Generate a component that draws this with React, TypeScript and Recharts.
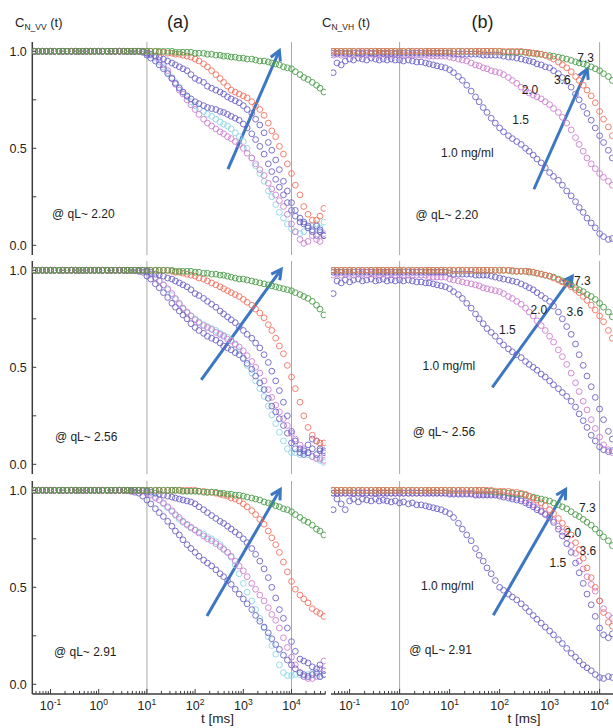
import React from "react";
import { ScatterChart, Scatter, XAxis, YAxis, ReferenceLine, ReferenceDot } from "recharts";

// correlator lag times [ms], shared by every series
const TIMES = [
  0.047, 0.056, 0.068, 0.082,
  0.1, 0.12, 0.15, 0.18, 0.22, 0.27, 0.33, 0.39, 0.47, 0.56, 0.68, 0.82,
  1, 1.2, 1.5, 1.8, 2.2, 2.7, 3.3, 3.9, 4.7, 5.6, 6.8, 8.2,
  10, 12, 15, 18, 22, 27, 33, 39, 47, 56, 68, 82,
  100, 120, 150, 180, 220, 270, 330, 390, 470, 560, 680, 820,
  1000, 1200, 1500, 1800, 2200, 2700, 3300, 3900, 4700, 5600, 6800, 8200,
  10000, 12000, 15000, 18000, 22000, 27000, 33000, 39000, 47000,
];

// ---- (a) C_N_VV, qL ~ 2.20 ----
const VV220_GREEN = [
  1, 1, 1, 1,
  1, 1, 1, 1, 1, 1, 1, 1, 1, 1, 1, 1,
  1, 1, 1, 1, 1, 1, 1, 1, 1, 1, 1, 1,
  1, 1, 1, 1, 1, 1, 1, 0.995, 0.995, 0.995, 0.995, 0.995,
  0.99, 0.99, 0.99, 0.985, 0.985, 0.98, 0.98, 0.975, 0.975, 0.97, 0.97, 0.965,
  0.965, 0.96, 0.96, 0.955, 0.95, 0.95, 0.945, 0.94, 0.935, 0.93, 0.92, 0.915,
  0.91, 0.895, 0.88, 0.865, 0.855, 0.84, 0.825, 0.81, 0.79,
];
const VV220_RED = [
  1, 1, 1, 1,
  1, 1, 1, 1, 1, 1, 1, 1, 1, 1, 1, 1,
  1, 1, 1, 1, 1, 1, 1, 1, 1, 1, 1, 1,
  1, 1, 1, 0.995, 0.995, 0.99, 0.99, 0.985, 0.985, 0.98, 0.975, 0.97,
  0.96, 0.95, 0.935, 0.92, 0.9, 0.88, 0.86, 0.84, 0.82, 0.8, 0.79, 0.78,
  0.77, 0.76, 0.74, 0.72, 0.7, 0.67, 0.63, 0.59, 0.56, 0.51, 0.47, 0.42,
  0.37, 0.31, 0.26, 0.2, 0.16, 0.13, 0.13, 0.15, 0.19,
];
const VV220_BLUE_SLOW = [
  1, 1, 1, 1,
  1, 1, 1, 1, 1, 1, 1, 1, 1, 1, 1, 1,
  1, 1, 1, 1, 1, 1, 1, 1, 1, 1, 1, 1,
  0.99, 0.985, 0.975, 0.97, 0.96, 0.95, 0.94, 0.93, 0.92, 0.91, 0.9, 0.88,
  0.86, 0.85, 0.84, 0.82, 0.81, 0.8, 0.79, 0.78, 0.765, 0.755, 0.745, 0.735,
  0.72, 0.7, 0.68, 0.65, 0.62, 0.58, 0.53, 0.49, 0.44, 0.39, 0.33, 0.28,
  0.22, 0.18, 0.14, 0.12, 0.1, 0.08, 0.1, 0.07, 0.05,
];
const VV220_BLUE_FAST = [
  1, 1, 1, 1,
  1, 1, 1, 1, 1, 1, 1, 1, 1, 1, 1, 1,
  1, 1, 1, 1, 1, 1, 1, 1, 1, 1, 1, 0.995,
  0.98, 0.965, 0.95, 0.93, 0.91, 0.885, 0.86, 0.835, 0.81, 0.79, 0.77, 0.755,
  0.74, 0.73, 0.72, 0.71, 0.705, 0.7, 0.69, 0.685, 0.675, 0.665, 0.655, 0.645,
  0.625, 0.605, 0.575, 0.545, 0.51, 0.47, 0.42, 0.38, 0.34, 0.3, 0.26, 0.22,
  0.18, 0.15, 0.12, 0.11, 0.09, 0.07, 0.05, 0.08, 0.05,
];
const VV220_MAGENTA = [
  1, 1, 1, 1,
  1, 1, 1, 1, 1, 1, 1, 1, 1, 1, 1, 1,
  1, 1, 1, 1, 1, 1, 1, 1, 1, 1, 1, 1,
  0.99, 0.985, 0.975, 0.955, 0.93, 0.9, 0.86, 0.83, 0.8, 0.78, 0.75, 0.725,
  0.7, 0.675, 0.65, 0.63, 0.615, 0.6, 0.585, 0.575, 0.56, 0.55, 0.535, 0.52,
  0.5, 0.475, 0.45, 0.42, 0.39, 0.36, 0.32, 0.29, 0.26, 0.23, 0.2, 0.16,
  0.11, 0.07, 0.03, 0.01, 0.02, 0.05, 0.03, 0.02, 0.06,
];
const VV220_CYAN = [
  1, 1, 1, 1,
  1, 1, 1, 1, 1, 1, 1, 1, 1, 1, 1, 1,
  1, 1, 1, 1, 1, 1, 1, 1, 1, 1, 1, 1,
  0.99, 0.98, 0.965, 0.945, 0.92, 0.89, 0.865, 0.84, 0.815, 0.79, 0.765, 0.74,
  0.72, 0.705, 0.69, 0.675, 0.665, 0.65, 0.635, 0.625, 0.615, 0.6, 0.58, 0.56,
  0.535, 0.5, 0.45, 0.41, 0.37, 0.33, 0.28, 0.25, 0.21, 0.17, 0.14, 0.11,
  0.085, 0.07, 0.06, 0.07, 0.09, 0.1, 0.11, 0.09, 0.12,
];

// ---- (a) C_N_VV, qL ~ 2.56 ----
const VV256_GREEN = [
  1, 1, 1, 1,
  1, 1, 1, 1, 1, 1, 1, 1, 1, 1, 1, 1,
  1, 1, 1, 1, 1, 1, 1, 1, 1, 1, 1, 1,
  1, 1, 1, 1, 1, 1, 1, 0.995, 0.995, 0.995, 0.995, 0.995,
  0.99, 0.99, 0.985, 0.985, 0.98, 0.98, 0.975, 0.975, 0.97, 0.965, 0.96, 0.955,
  0.955, 0.95, 0.945, 0.94, 0.935, 0.93, 0.925, 0.92, 0.915, 0.91, 0.905, 0.9,
  0.895, 0.885, 0.875, 0.865, 0.855, 0.84, 0.82, 0.8, 0.77,
];
const VV256_RED = [
  1, 1, 1, 1,
  1, 1, 1, 1, 1, 1, 1, 1, 1, 1, 1, 1,
  1, 1, 1, 1, 1, 1, 1, 1, 1, 1, 1, 1,
  1, 1, 1, 1, 1, 1, 0.995, 0.99, 0.99, 0.985, 0.98, 0.975,
  0.97, 0.96, 0.955, 0.945, 0.935, 0.925, 0.915, 0.905, 0.895, 0.885, 0.875, 0.865,
  0.85, 0.835, 0.82, 0.8, 0.78, 0.755, 0.72, 0.69, 0.65, 0.61, 0.57, 0.51,
  0.45, 0.39, 0.32, 0.25, 0.19, 0.15, 0.12, 0.11, 0.11,
];
const VV256_BLUE_SLOW = [
  1, 1, 1, 1,
  1, 1, 1, 1, 1, 1, 1, 1, 1, 1, 1, 1,
  1, 1, 1, 1, 1, 1, 1, 1, 1, 1, 1, 1,
  0.995, 0.99, 0.98, 0.975, 0.97, 0.96, 0.955, 0.945, 0.935, 0.925, 0.915, 0.9,
  0.88, 0.87, 0.855, 0.84, 0.825, 0.81, 0.79, 0.775, 0.76, 0.745, 0.73, 0.71,
  0.69, 0.67, 0.65, 0.625, 0.6, 0.565, 0.525, 0.48, 0.43, 0.38, 0.32, 0.25,
  0.17, 0.12, 0.08, 0.07, 0.1, 0.13, 0.12, 0.08, 0.07,
];
const VV256_BLUE_FAST = [
  1, 1, 1, 1,
  1, 1, 1, 1, 1, 1, 1, 1, 1, 1, 1, 1,
  1, 1, 1, 1, 1, 1, 1, 1, 1, 1, 0.995, 0.99,
  0.97, 0.955, 0.93, 0.91, 0.885, 0.86, 0.83, 0.81, 0.79, 0.77, 0.75, 0.725,
  0.705, 0.69, 0.675, 0.66, 0.65, 0.64, 0.625, 0.61, 0.6, 0.59, 0.575, 0.565,
  0.545, 0.52, 0.49, 0.455, 0.42, 0.385, 0.34, 0.3, 0.27, 0.235, 0.2, 0.16,
  0.11, 0.08, 0.06, 0.05, 0.06, 0.08, 0.05, 0.07, 0.06,
];
const VV256_MAGENTA = [
  1, 1, 1, 1,
  1, 1, 1, 1, 1, 1, 1, 1, 1, 1, 1, 1,
  1, 1, 1, 1, 1, 1, 1, 1, 1, 1, 1, 1,
  0.99, 0.98, 0.96, 0.945, 0.925, 0.905, 0.88, 0.855, 0.83, 0.805, 0.785, 0.765,
  0.745, 0.73, 0.715, 0.705, 0.695, 0.68, 0.67, 0.66, 0.645, 0.635, 0.62, 0.605,
  0.585, 0.56, 0.53, 0.5, 0.47, 0.43, 0.385, 0.345, 0.305, 0.27, 0.235, 0.2,
  0.16, 0.13, 0.1, 0.08, 0.06, 0.04, 0.03, 0.03, 0.02,
];
const VV256_CYAN = [
  1, 1, 1, 1,
  1, 1, 1, 1, 1, 1, 1, 1, 1, 1, 1, 1,
  1, 1, 1, 1, 1, 1, 1, 1, 1, 1, 1, 1,
  0.99, 0.98, 0.965, 0.945, 0.925, 0.9, 0.87, 0.85, 0.825, 0.8, 0.78, 0.765,
  0.75, 0.735, 0.72, 0.71, 0.7, 0.69, 0.675, 0.665, 0.655, 0.64, 0.615, 0.585,
  0.55, 0.51, 0.47, 0.43, 0.39, 0.35, 0.3, 0.255, 0.21, 0.165, 0.12, 0.08,
  0.06, 0.06, 0.05, 0.06, 0.05, 0.04, 0.03, 0.02, 0.01,
];

// ---- (a) C_N_VV, qL ~ 2.91 ----
const VV291_GREEN = [
  1, 1, 1, 1,
  1, 1, 1, 1, 1, 1, 1, 1, 1, 1, 1, 1,
  1, 1, 1, 1, 1, 1, 1, 1, 1, 1, 1, 1,
  1, 1, 1, 1, 1, 1, 1, 1, 1, 0.995, 0.995, 0.995,
  0.995, 0.995, 0.99, 0.99, 0.99, 0.99, 0.985, 0.985, 0.98, 0.98, 0.975, 0.975,
  0.97, 0.965, 0.96, 0.955, 0.95, 0.94, 0.935, 0.93, 0.92, 0.915, 0.905, 0.9,
  0.89, 0.875, 0.86, 0.845, 0.835, 0.82, 0.8, 0.79, 0.77,
];
const VV291_RED = [
  1, 1, 1, 1,
  1, 1, 1, 1, 1, 1, 1, 1, 1, 1, 1, 1,
  1, 1, 1, 1, 1, 1, 1, 1, 1, 1, 1, 1,
  1, 1, 1, 1, 1, 1, 1, 1, 1, 1, 1, 1,
  1, 0.995, 0.995, 0.99, 0.99, 0.985, 0.98, 0.975, 0.97, 0.96, 0.955, 0.945,
  0.93, 0.915, 0.895, 0.875, 0.85, 0.825, 0.79, 0.755, 0.72, 0.68, 0.63, 0.58,
  0.53, 0.49, 0.46, 0.44, 0.42, 0.39, 0.375, 0.365, 0.35,
];
const VV291_BLUE_SLOW = [
  1, 1, 1, 1,
  1, 1, 1, 1, 1, 1, 1, 1, 1, 1, 1, 1,
  1, 1, 1, 1, 1, 1, 1, 1, 1, 1, 1, 1,
  0.995, 0.99, 0.985, 0.98, 0.975, 0.97, 0.965, 0.96, 0.955, 0.95, 0.945, 0.94,
  0.93, 0.915, 0.9, 0.885, 0.87, 0.855, 0.84, 0.83, 0.815, 0.8, 0.785, 0.77,
  0.75, 0.73, 0.7, 0.67, 0.635, 0.595, 0.55, 0.5, 0.445, 0.385, 0.34, 0.29,
  0.22, 0.17, 0.13, 0.12, 0.11, 0.09, 0.08, 0.1, 0.07,
];
const VV291_BLUE_FAST = [
  1, 1, 1, 1,
  1, 1, 1, 1, 1, 1, 1, 1, 1, 1, 1, 1,
  1, 1, 1, 1, 1, 1, 1, 1, 0.995, 0.99, 0.985, 0.97,
  0.95, 0.93, 0.905, 0.885, 0.865, 0.84, 0.815, 0.79, 0.77, 0.745, 0.72, 0.7,
  0.68, 0.66, 0.64, 0.625, 0.61, 0.59, 0.57, 0.555, 0.535, 0.515, 0.49, 0.465,
  0.44, 0.415, 0.385, 0.355, 0.325, 0.295, 0.265, 0.235, 0.205, 0.18, 0.15, 0.125,
  0.1, 0.08, 0.06, 0.05, 0.04, 0.05, 0.06, 0.04, 0.05,
];
const VV291_MAGENTA = [
  1, 1, 1, 1,
  1, 1, 1, 1, 1, 1, 1, 1, 1, 1, 1, 1,
  1, 1, 1, 1, 1, 1, 1, 1, 1, 1, 1, 0.995,
  0.985, 0.975, 0.96, 0.95, 0.935, 0.915, 0.895, 0.875, 0.86, 0.84, 0.825, 0.81,
  0.795, 0.78, 0.765, 0.75, 0.74, 0.725, 0.71, 0.695, 0.68, 0.66, 0.635, 0.61,
  0.585, 0.555, 0.52, 0.49, 0.46, 0.43, 0.395, 0.36, 0.33, 0.29, 0.24, 0.19,
  0.14, 0.1, 0.06, 0.04, 0.03, 0.03, 0.04, 0.08, 0.12,
];
const VV291_CYAN = [
  1, 1, 1, 1,
  1, 1, 1, 1, 1, 1, 1, 1, 1, 1, 1, 1,
  1, 1, 1, 1, 1, 1, 1, 1, 1, 1, 1, 1,
  0.99, 0.98, 0.965, 0.95, 0.93, 0.91, 0.89, 0.87, 0.85, 0.835, 0.82, 0.805,
  0.795, 0.785, 0.775, 0.76, 0.75, 0.735, 0.72, 0.7, 0.68, 0.655, 0.615, 0.57,
  0.52, 0.475, 0.43, 0.385, 0.34, 0.29, 0.245, 0.2, 0.155, 0.1, 0.06, 0.045,
  0.045, 0.05, 0.05, 0.04, 0.05, 0.06, 0.05, 0.04, 0.05,
];

// ---- (b) C_N_VH, qL ~ 2.20 ----
const VH220_GREEN = [
  1, 1, 1, 1,
  1, 1, 1, 1, 1, 1, 1, 1, 1, 1, 1, 1,
  1, 1, 1, 1, 1, 1, 1, 1, 1, 1, 1, 1,
  1, 1, 1, 1, 1, 1, 1, 1, 1, 1, 1, 1,
  1, 0.995, 0.995, 0.995, 0.995, 0.995, 0.995, 0.99, 0.99, 0.985, 0.985, 0.98,
  0.978, 0.975, 0.97, 0.965, 0.96, 0.953, 0.946, 0.94, 0.935, 0.928, 0.92, 0.91,
  0.9, 0.885, 0.87, 0.85, 0.83, 0.81, 0.79, 0.77, 0.74,
];
const VH220_RED = [
  1, 1, 1, 1,
  1, 1, 1, 1, 1, 1, 1, 1, 1, 1, 1, 1,
  1, 1, 1, 1, 1, 1, 1, 1, 1, 1, 1, 1,
  1, 1, 1, 1, 1, 1, 1, 1, 1, 1, 1, 1,
  1, 1, 1, 1, 1, 1, 0.995, 0.995, 0.99, 0.99, 0.985, 0.98,
  0.97, 0.96, 0.945, 0.93, 0.915, 0.895, 0.87, 0.85, 0.825, 0.8, 0.77, 0.735,
  0.69, 0.65, 0.61, 0.565, 0.52, 0.47, 0.42, 0.37, 0.32,
];
const VH220_BLUE_MID = [
  0.99, 0.99, 0.99, 0.99,
  0.99, 0.99, 0.99, 0.99, 0.99, 0.99, 0.99, 0.99, 0.99, 0.99, 0.99, 0.99,
  0.99, 0.99, 0.99, 0.99, 0.99, 0.99, 0.99, 0.99, 0.99, 0.99, 0.99, 0.99,
  0.99, 0.985, 0.985, 0.985, 0.985, 0.985, 0.985, 0.985, 0.98, 0.98, 0.98, 0.98,
  0.98, 0.975, 0.97, 0.97, 0.965, 0.96, 0.955, 0.95, 0.945, 0.935, 0.93, 0.92,
  0.915, 0.9, 0.885, 0.865, 0.845, 0.815, 0.78, 0.75, 0.715, 0.68, 0.645, 0.605,
  0.565, 0.53, 0.49, 0.45, 0.41, 0.37, 0.33, 0.29, 0.25,
];
const VH220_MAGENTA = [
  0.98, 0.985, 0.98, 0.985,
  0.985, 0.98, 0.985, 0.985, 0.98, 0.985, 0.985, 0.98, 0.985, 0.985, 0.98, 0.985,
  0.98, 0.98, 0.98, 0.98, 0.98, 0.98, 0.98, 0.975, 0.975, 0.975, 0.975, 0.975,
  0.97, 0.965, 0.96, 0.955, 0.95, 0.94, 0.93, 0.925, 0.915, 0.91, 0.9, 0.895,
  0.89, 0.88, 0.865, 0.85, 0.835, 0.815, 0.8, 0.785, 0.775, 0.765, 0.755, 0.74,
  0.725, 0.705, 0.685, 0.66, 0.63, 0.595, 0.555, 0.52, 0.485, 0.45, 0.42, 0.395,
  0.37, 0.35, 0.33, 0.31, 0.29, 0.27, 0.25, 0.23, 0.21,
];
const VH220_BLUE_LOW = [
  0.89, 0.94, 0.93, 0.95,
  0.96, 0.955, 0.965, 0.96, 0.955, 0.965, 0.96, 0.955, 0.96, 0.955, 0.96, 0.955,
  0.955, 0.95, 0.955, 0.95, 0.945, 0.945, 0.94, 0.935, 0.93, 0.925, 0.92, 0.915,
  0.905, 0.89, 0.87, 0.85, 0.825, 0.795, 0.765, 0.74, 0.71, 0.685, 0.655, 0.63,
  0.605, 0.585, 0.565, 0.55, 0.535, 0.52, 0.5, 0.485, 0.465, 0.445, 0.425, 0.4,
  0.375, 0.355, 0.335, 0.31, 0.28, 0.255, 0.225, 0.195, 0.17, 0.14, 0.115, 0.09,
  0.06, 0.045, 0.03, 0.035, 0.05, 0.04, 0.05, 0.06, 0.05,
];

// ---- (b) C_N_VH, qL ~ 2.56 ----
const VH256_GREEN = [
  1, 1, 1, 1,
  1, 1, 1, 1, 1, 1, 1, 1, 1, 1, 1, 1,
  1, 1, 1, 1, 1, 1, 1, 1, 1, 1, 1, 1,
  1, 1, 1, 1, 1, 1, 1, 1, 1, 1, 1, 1,
  1, 1, 1, 0.995, 0.995, 0.995, 0.995, 0.99, 0.99, 0.985, 0.98, 0.975,
  0.97, 0.965, 0.955, 0.945, 0.935, 0.925, 0.91, 0.9, 0.89, 0.875, 0.865, 0.85,
  0.83, 0.81, 0.785, 0.76, 0.735, 0.71, 0.68, 0.65, 0.62,
];
const VH256_RED = [
  1, 1, 1, 1,
  1, 1, 1, 1, 1, 1, 1, 1, 1, 1, 1, 1,
  1, 1, 1, 1, 1, 1, 1, 1, 1, 1, 1, 1,
  1, 1, 1, 1, 1, 1, 1, 1, 1, 1, 1, 1,
  1, 1, 1, 1, 0.995, 0.995, 0.995, 0.995, 0.99, 0.985, 0.98, 0.975,
  0.97, 0.96, 0.95, 0.94, 0.93, 0.915, 0.9, 0.885, 0.865, 0.845, 0.82, 0.795,
  0.765, 0.735, 0.69, 0.65, 0.6, 0.55, 0.5, 0.45, 0.4,
];
const VH256_BLUE_MID = [
  0.99, 0.99, 0.99, 0.99,
  0.99, 0.99, 0.99, 0.99, 0.99, 0.99, 0.99, 0.99, 0.99, 0.99, 0.99, 0.99,
  0.99, 0.99, 0.99, 0.99, 0.99, 0.99, 0.99, 0.99, 0.99, 0.99, 0.99, 0.99,
  0.985, 0.98, 0.98, 0.98, 0.98, 0.98, 0.975, 0.975, 0.975, 0.975, 0.97, 0.965,
  0.96, 0.955, 0.95, 0.945, 0.94, 0.93, 0.92, 0.91, 0.9, 0.885, 0.87, 0.855,
  0.84, 0.815, 0.785, 0.75, 0.71, 0.67, 0.62, 0.565, 0.51, 0.455, 0.4, 0.345,
  0.285, 0.23, 0.17, 0.13, 0.1, 0.08, 0.07, 0.07, 0.08,
];
const VH256_MAGENTA = [
  0.975, 0.98, 0.975, 0.98,
  0.98, 0.975, 0.98, 0.98, 0.975, 0.98, 0.98, 0.975, 0.98, 0.975, 0.98, 0.975,
  0.975, 0.975, 0.975, 0.975, 0.975, 0.975, 0.975, 0.965, 0.965, 0.965, 0.965, 0.965,
  0.955, 0.95, 0.945, 0.94, 0.935, 0.93, 0.925, 0.92, 0.91, 0.905, 0.9, 0.895,
  0.89, 0.88, 0.865, 0.855, 0.84, 0.825, 0.805, 0.785, 0.765, 0.74, 0.715, 0.69,
  0.66, 0.63, 0.59, 0.555, 0.515, 0.47, 0.42, 0.375, 0.325, 0.28, 0.23, 0.185,
  0.14, 0.1, 0.075, 0.06, 0.055, 0.06, 0.065, 0.07, 0.075,
];
const VH256_BLUE_LOW = [
  0.88, 0.945, 0.935, 0.95,
  0.94, 0.95, 0.955, 0.945, 0.95, 0.955, 0.945, 0.95, 0.955, 0.945, 0.95, 0.945,
  0.95, 0.945, 0.95, 0.945, 0.94, 0.94, 0.935, 0.935, 0.93, 0.925, 0.92, 0.915,
  0.905, 0.89, 0.875, 0.855, 0.83, 0.805, 0.775, 0.75, 0.725, 0.7, 0.68, 0.66,
  0.635, 0.615, 0.595, 0.58, 0.565, 0.55, 0.53, 0.515, 0.5, 0.485, 0.465, 0.45,
  0.43, 0.41, 0.39, 0.37, 0.35, 0.325, 0.295, 0.26, 0.225, 0.19, 0.15, 0.12,
  0.09, 0.075, 0.065, 0.07, 0.075, 0.08, 0.07, 0.08, 0.07,
];

// ---- (b) C_N_VH, qL ~ 2.91 ----
const VH291_GREEN = [
  1, 1, 1, 1,
  1, 1, 1, 1, 1, 1, 1, 1, 1, 1, 1, 1,
  1, 1, 1, 1, 1, 1, 1, 1, 1, 1, 1, 1,
  1, 1, 1, 1, 1, 1, 1, 1, 1, 0.995, 0.995, 0.99,
  0.99, 0.99, 0.985, 0.985, 0.98, 0.98, 0.975, 0.97, 0.965, 0.96, 0.955, 0.95,
  0.945, 0.935, 0.925, 0.915, 0.905, 0.89, 0.875, 0.865, 0.85, 0.835, 0.82, 0.8,
  0.78, 0.76, 0.74, 0.715, 0.695, 0.67, 0.645, 0.62, 0.59,
];
const VH291_RED = [
  1, 1, 1, 1,
  1, 1, 1, 1, 1, 1, 1, 1, 1, 1, 1, 1,
  1, 1, 1, 1, 1, 1, 1, 1, 1, 1, 1, 1,
  1, 1, 1, 1, 1, 1, 1, 1, 1, 1, 1, 0.995,
  0.995, 0.995, 0.995, 0.99, 0.99, 0.985, 0.98, 0.97, 0.96, 0.95, 0.935, 0.92,
  0.9, 0.88, 0.855, 0.83, 0.8, 0.77, 0.73, 0.695, 0.65, 0.6, 0.55, 0.5,
  0.43, 0.37, 0.32, 0.3, 0.31, 0.34, 0.37, 0.4, 0.42,
];
const VH291_MAGENTA = [
  0.985, 0.985, 0.985, 0.985,
  0.985, 0.985, 0.985, 0.985, 0.985, 0.985, 0.985, 0.985, 0.985, 0.985, 0.985, 0.985,
  0.985, 0.985, 0.985, 0.985, 0.985, 0.985, 0.985, 0.985, 0.985, 0.985, 0.985, 0.985,
  0.985, 0.985, 0.985, 0.985, 0.985, 0.985, 0.98, 0.98, 0.98, 0.98, 0.98, 0.98,
  0.978, 0.975, 0.97, 0.965, 0.96, 0.955, 0.945, 0.935, 0.925, 0.91, 0.895, 0.88,
  0.865, 0.845, 0.815, 0.785, 0.755, 0.715, 0.675, 0.635, 0.595, 0.555, 0.515, 0.48,
  0.43, 0.39, 0.355, 0.34, 0.35, 0.37, 0.39, 0.4, 0.41,
];
const VH291_BLUE_MID = [
  0.985, 0.985, 0.985, 0.985,
  0.985, 0.985, 0.985, 0.985, 0.985, 0.985, 0.985, 0.985, 0.985, 0.985, 0.985, 0.985,
  0.985, 0.985, 0.985, 0.985, 0.985, 0.985, 0.985, 0.985, 0.985, 0.985, 0.985, 0.985,
  0.98, 0.98, 0.98, 0.98, 0.98, 0.98, 0.975, 0.975, 0.975, 0.975, 0.975, 0.975,
  0.97, 0.965, 0.96, 0.955, 0.95, 0.945, 0.935, 0.925, 0.915, 0.9, 0.89, 0.875,
  0.86, 0.835, 0.8, 0.765, 0.725, 0.68, 0.625, 0.575, 0.52, 0.465, 0.41, 0.35,
  0.29, 0.255, 0.24, 0.26, 0.32, 0.38, 0.44, 0.49, 0.54,
];
const VH291_BLUE_LOW = [
  0.9, 0.955, 0.93, 0.9,
  0.945, 0.955, 0.94, 0.955, 0.95, 0.945, 0.955, 0.945, 0.95, 0.945, 0.94, 0.945,
  0.935, 0.94, 0.93, 0.935, 0.925, 0.925, 0.92, 0.915, 0.91, 0.905, 0.9, 0.89,
  0.88, 0.86, 0.83, 0.8, 0.77, 0.74, 0.7, 0.665, 0.635, 0.6, 0.57, 0.535,
  0.5, 0.485, 0.465, 0.45, 0.435, 0.415, 0.395, 0.375, 0.355, 0.335, 0.315, 0.295,
  0.275, 0.255, 0.23, 0.21, 0.185, 0.16, 0.14, 0.12, 0.1, 0.085, 0.07, 0.05,
  0.035, 0.03, 0.04, 0.035, 0.03, 0.04, 0.03, 0.04, 0.03,
];

// annotations: [t, C, text]
const NOTES_VV220 = [[0.48, 0.163, "@ qL~ 2.20"]];
const NOTES_VV256 = [[0.55, 0.142, "@ qL~ 2.56"]];
const NOTES_VV291 = [[0.525, 0.168, "@ qL~ 2.91"]];
const NOTES_VH220 = [
  [5250, 0.968, "7.3"], [1790, 0.855, "3.6"], [405, 0.8, "2.0"],
  [263, 0.65, "1.5"], [22.6, 0.478, "1.0 mg/ml"], [8.8, 0.16, "@ qL~ 2.20"],
];
const NOTES_VH256 = [
  [4500, 0.947, "7.3"], [3210, 0.787, "3.6"], [611, 0.799, "2.0"],
  [143, 0.692, "1.5"], [9.7, 0.51, "1.0 mg/ml"], [7.7, 0.168, "@ qL~ 2.56"],
];
const NOTES_VH291 = [
  [5680, 0.91, "7.3"], [5830, 0.687, "3.6"], [2930, 0.781, "2.0"],
  [1465, 0.629, "1.5"], [9.0, 0.51, "1.0 mg/ml"], [6.6, 0.177, "@ qL~ 2.91"],
];

// concentration arrows: [t0, C0, t1, C1]
const ARROW_VV220 = [480, 0.393, 5600, 1.004];
const ARROW_VV256 = [134, 0.435, 6100, 1.005];
const ARROW_VV291 = [176, 0.352, 5840, 1.005];
const ARROW_VH220 = [485, 0.289, 5670, 0.909];
const ARROW_VH256 = [71.4, 0.397, 2840, 0.969];
const ARROW_VH291 = [74.8, 0.356, 2090, 1.005];

const X_MAJOR = [0.1, 1, 10, 100, 1000, 10000];
const Y_TICKS = [0, 0.25, 0.5, 0.75, 1];

const GREEN = "#4a9d4a";
const RED = "#f3705f";
const INDIGO = "#6c63c6";
const MAGENTA = "#cc7fcf";
const CYAN = "#8dd7e5";
const FRAME = "#3c3c3c";
const INK = "#1e1e1e";
const GUIDE = "#a8a8a8";
const ARROW = "#3b77c3";
const FONT = "'Liberation Sans', Arial, sans-serif";

const LEFT_DOMAIN = [0.04188, 50933];
const RIGHT_DOMAIN = [0.04246, 50119];
const Y_DOMAIN = [-0.05, 1.048];
const ROW_TOPS = [41.5, 261.2, 480.9];
const PLOT_H = 213;

const LEFT_GEOM = { left: 0, marginLeft: 0, axisW: 32.3, plotW: 293.3, marginRight: 4 };
const RIGHT_GEOM = { left: 328.7, marginLeft: 2, axisW: 0, plotW: 303.6, marginRight: 4 };

const X_TICKS = [0.01, ...X_MAJOR].flatMap((d) => [1, 2, 3, 4, 5, 6, 7, 8, 9].map((m) => m * d));

const LEFT_PANELS = [
  { series: [[VV220_CYAN, CYAN], [VV220_MAGENTA, MAGENTA], [VV220_BLUE_FAST, INDIGO], [VV220_BLUE_SLOW, INDIGO], [VV220_RED, RED], [VV220_GREEN, GREEN]], notes: NOTES_VV220, arrow: ARROW_VV220 },
  { series: [[VV256_CYAN, CYAN], [VV256_MAGENTA, MAGENTA], [VV256_BLUE_FAST, INDIGO], [VV256_BLUE_SLOW, INDIGO], [VV256_RED, RED], [VV256_GREEN, GREEN]], notes: NOTES_VV256, arrow: ARROW_VV256 },
  { series: [[VV291_CYAN, CYAN], [VV291_MAGENTA, MAGENTA], [VV291_BLUE_FAST, INDIGO], [VV291_BLUE_SLOW, INDIGO], [VV291_RED, RED], [VV291_GREEN, GREEN]], notes: NOTES_VV291, arrow: ARROW_VV291 },
];
const RIGHT_PANELS = [
  { series: [[VH220_BLUE_LOW, INDIGO], [VH220_MAGENTA, MAGENTA], [VH220_BLUE_MID, INDIGO], [VH220_GREEN, GREEN], [VH220_RED, RED]], notes: NOTES_VH220, arrow: ARROW_VH220 },
  { series: [[VH256_BLUE_LOW, INDIGO], [VH256_MAGENTA, MAGENTA], [VH256_BLUE_MID, INDIGO], [VH256_GREEN, GREEN], [VH256_RED, RED]], notes: NOTES_VH256, arrow: ARROW_VH256 },
  { series: [[VH291_BLUE_LOW, INDIGO], [VH291_MAGENTA, MAGENTA], [VH291_BLUE_MID, INDIGO], [VH291_GREEN, GREEN], [VH291_RED, RED]], notes: NOTES_VH291, arrow: ARROW_VH291 },
];

const isMajor = (v: number) => X_MAJOR.includes(v);

function BottomTick(props: any) {
  const { x, y, payload, showLabel } = props;
  const major = isMajor(payload.value);
  const exp = Math.round(Math.log10(payload.value));
  return (
    <g>
      <line x1={x} x2={x} y1={y} y2={y - (major ? 5 : 3)} stroke={FRAME} strokeWidth={1} />
      {showLabel && major && (
        <text x={x} y={y + 16.5} textAnchor="middle" fontSize={12.5} fill={INK} fontFamily={FONT}>
          10<tspan dy={-5} fontSize={8.5}>{exp}</tspan>
        </text>
      )}
    </g>
  );
}

function TopTick(props: any) {
  const { x, y, payload } = props;
  const major = isMajor(payload.value);
  return <line x1={x} x2={x} y1={y} y2={y + (major ? 5 : 3)} stroke={FRAME} strokeWidth={1} />;
}

function LeftTick(props: any) {
  const { x, y, payload, showLabel } = props;
  const v = payload.value;
  const major = v === 0 || v === 0.5 || v === 1;
  return (
    <g>
      <line x1={x} x2={x + 4} y1={y} y2={y} stroke={FRAME} strokeWidth={1} />
      {showLabel && major && (
        <text x={x - 5.5} y={y} dy="0.36em" textAnchor="end" fontSize={12.5} fill={INK} fontFamily={FONT}>
          {v.toFixed(1)}
        </text>
      )}
    </g>
  );
}

function RightTick(props: any) {
  const { x, y } = props;
  return <line x1={x} x2={x - 4} y1={y} y2={y} stroke={FRAME} strokeWidth={1} />;
}

function ArrowShape(props: any) {
  const { x1, y1, x2, y2 } = props;
  const ang = Math.atan2(y2 - y1, x2 - x1);
  const len = 11;
  const spread = 0.5;
  const ax = x2 - len * Math.cos(ang - spread);
  const ay = y2 - len * Math.sin(ang - spread);
  const bx = x2 - len * Math.cos(ang + spread);
  const by = y2 - len * Math.sin(ang + spread);
  return (
    <g>
      <line x1={x1} y1={y1} x2={x2} y2={y2} stroke={ARROW} strokeWidth={3} />
      <polyline points={`${ax},${ay} ${x2},${y2} ${bx},${by}`} fill="none" stroke={ARROW} strokeWidth={3} />
    </g>
  );
}

const circleShape = (color: string) => (p: any) => (
  <circle cx={p.cx} cy={p.cy} r={2.9} fill="none" stroke={color} strokeWidth={0.9} />
);

function Panel({ panel, side, row }: { panel: any; side: "left" | "right"; row: number }) {
  const isLeft = side === "left";
  const geom = isLeft ? LEFT_GEOM : RIGHT_GEOM;
  const domain = isLeft ? LEFT_DOMAIN : RIGHT_DOMAIN;
  const bottomRow = row === 2;
  const width = geom.marginLeft + geom.axisW + geom.plotW + geom.marginRight;
  const height = 4 + PLOT_H + (bottomRow ? 34 : 4);
  const ticks = X_TICKS.filter((v) => v >= domain[0] && v <= domain[1]);
  const guides = isLeft ? [10, 10000] : [1, 10000];
  const axisLine = { stroke: FRAME, strokeWidth: 1.5 };
  const [t0, c0, t1, c1] = panel.arrow;

  return (
    <div style={{ position: "absolute", left: geom.left, top: ROW_TOPS[row] - 4, width, height }}>
      <ScatterChart
        width={width}
        height={height}
        margin={{ top: 4, right: geom.marginRight, bottom: bottomRow ? 0 : 4, left: geom.marginLeft }}
      >
        <XAxis
          xAxisId="b"
          dataKey="t"
          type="number"
          scale="log"
          domain={domain}
          allowDataOverflow
          ticks={ticks}
          interval={0}
          tickLine={false}
          tickSize={0}
          tickMargin={0}
          axisLine={axisLine}
          height={bottomRow ? 34 : 0}
          tick={(p: any) => <BottomTick {...p} showLabel={bottomRow} />}
        />
        <XAxis
          xAxisId="t"
          orientation="top"
          dataKey="t"
          type="number"
          scale="log"
          domain={domain}
          allowDataOverflow
          ticks={ticks}
          interval={0}
          tickLine={false}
          tickSize={0}
          tickMargin={0}
          axisLine={axisLine}
          height={0}
          tick={(p: any) => <TopTick {...p} />}
        />
        <YAxis
          yAxisId="l"
          dataKey="v"
          type="number"
          domain={Y_DOMAIN}
          allowDataOverflow
          ticks={Y_TICKS}
          interval={0}
          tickLine={false}
          tickSize={0}
          tickMargin={0}
          axisLine={axisLine}
          width={geom.axisW}
          tick={(p: any) => <LeftTick {...p} showLabel={isLeft} />}
        />
        <YAxis
          yAxisId="r"
          orientation="right"
          dataKey="v"
          type="number"
          domain={Y_DOMAIN}
          allowDataOverflow
          ticks={Y_TICKS}
          interval={0}
          tickLine={false}
          tickSize={0}
          tickMargin={0}
          axisLine={axisLine}
          width={0}
          tick={(p: any) => <RightTick {...p} />}
        />
        {guides.map((g) => (
          <ReferenceLine key={`g${g}`} xAxisId="b" yAxisId="l" x={g} stroke={GUIDE} strokeWidth={1} ifOverflow="visible" />
        ))}
        {panel.series.map(([values, color]: [number[], string], i: number) => (
          <Scatter
            key={`s${i}`}
            xAxisId="b"
            yAxisId="l"
            data={TIMES.map((t, k) => ({ t, v: values[k] }))}
            dataKey="v"
            isAnimationActive={false}
            shape={circleShape(color)}
          />
        ))}
        {panel.notes.map(([t, v, text]: [number, number, string]) => (
          <ReferenceDot
            key={text}
            xAxisId="b"
            yAxisId="l"
            x={t}
            y={v}
            r={1}
            ifOverflow="visible"
            shape={(p: any) => (
              <text x={p.cx} y={p.cy} dy="0.36em" textAnchor="middle" fontSize={12} fill={INK} fontFamily={FONT}>
                {text}
              </text>
            )}
          />
        ))}
        <ReferenceLine
          xAxisId="b"
          yAxisId="l"
          segment={[{ x: t0, y: c0 }, { x: t1, y: c1 }]}
          ifOverflow="visible"
          shape={ArrowShape}
        />
      </ScatterChart>
    </div>
  );
}

export default function App() {
  return (
    <div
      style={{
        position: "absolute",
        left: 0,
        top: 0,
        width: 613,
        height: 728,
        overflow: "hidden",
        background: "#fff",
        fontFamily: FONT,
      }}
    >
      {LEFT_PANELS.map((p, r) => (
        <Panel key={`L${r}`} panel={p} side="left" row={r} />
      ))}
      {RIGHT_PANELS.map((p, r) => (
        <Panel key={`R${r}`} panel={p} side="right" row={r} />
      ))}
      <svg width={613} height={728} style={{ position: "absolute", left: 0, top: 0, pointerEvents: "none" }} fontFamily={FONT}>
        <text x={15} y={27} fontSize={13} fill={INK}>
          C<tspan fontSize={8.5} dy={3}>N_VV</tspan>
          <tspan dy={-3}>{" (t)"}</tspan>
        </text>
        <text x={178} y={28} fontSize={18} textAnchor="middle" fill={INK}>(a)</text>
        <text x={322} y={27} fontSize={13} fill={INK}>
          C<tspan fontSize={8.5} dy={3}>N_VH</tspan>
          <tspan dy={-3}>{" (t)"}</tspan>
        </text>
        <text x={482.5} y={28} fontSize={18} textAnchor="middle" fill={INK}>(b)</text>
        <text x={217.5} y={723} fontSize={13.5} textAnchor="middle" fill={INK}>t [ms]</text>
        <text x={524} y={723} fontSize={13.5} textAnchor="middle" fill={INK}>t [ms]</text>
      </svg>
    </div>
  );
}
